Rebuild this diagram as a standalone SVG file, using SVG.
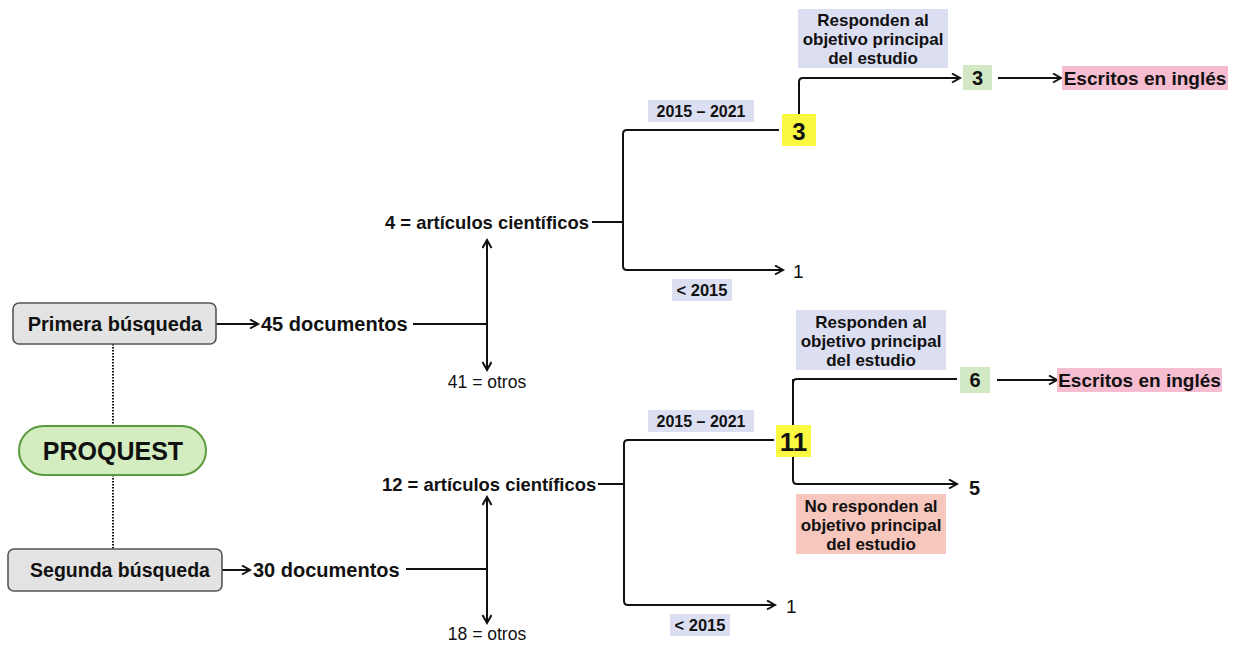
<svg xmlns="http://www.w3.org/2000/svg" width="1234" height="646" viewBox="0 0 1234 646">
<defs>
<marker id="ar" markerUnits="userSpaceOnUse" markerWidth="12" markerHeight="12" refX="9" refY="5" orient="auto-start-reverse">
<path d="M1,0.5 L9,5 L1,9.5" fill="none" stroke="#111" stroke-width="2"/>
</marker>
<style>
text{font-family:"Liberation Sans",Arial,sans-serif;fill:#111;dominant-baseline:central}
.b{font-weight:bold}
.c{text-anchor:middle}
.con path,.con line{fill:none;stroke:#111;stroke-width:2}
.dot{stroke:#333;stroke-width:2;stroke-dasharray:1.5 1.5;fill:none}
.lav{fill:#dcdff2}
.yel{fill:#fbf842}
.grn{fill:#d2e8c4}
.pnk{fill:#f6bcd0}
.sal{fill:#f7c6bd}
.box{fill:#e3e3e3;stroke:#555;stroke-width:1.6}
</style>
</defs>
<rect width="1234" height="646" fill="#fff"/>

<g id="connectors" class="con">
<line class="dot" x1="113" y1="344" x2="113" y2="426"/>
<line class="dot" x1="113" y1="475" x2="113" y2="549"/>
<line x1="216" y1="324" x2="258" y2="324" marker-end="url(#ar)"/>
<line x1="413" y1="324" x2="487" y2="324"/>
<line x1="487" y1="240" x2="487" y2="370" marker-start="url(#ar)" marker-end="url(#ar)"/>
<line x1="592" y1="222" x2="623" y2="222"/>
<path d="M779,130 H627 Q623,130 623,134 V266 Q623,270 627,270 H783" marker-end="url(#ar)"/>
<path d="M799,114 V82 Q799,78 803,78 H960" marker-end="url(#ar)"/>
<line x1="998" y1="78" x2="1061" y2="78" marker-end="url(#ar)"/>

<line x1="222" y1="570" x2="250" y2="570" marker-end="url(#ar)"/>
<line x1="406" y1="569" x2="487" y2="569"/>
<line x1="487" y1="497" x2="487" y2="623" marker-start="url(#ar)" marker-end="url(#ar)"/>
<line x1="598" y1="484" x2="624" y2="484"/>
<path d="M774,440 H628 Q624,440 624,444 V601 Q624,605 628,605 H775" marker-end="url(#ar)"/>
<path d="M957,379 H797 Q793,379 793,383 V480 Q793,484 797,484 H957" marker-end="url(#ar)"/>
<line x1="793" y1="379" x2="793" y2="426"/>
<line x1="997" y1="380" x2="1057" y2="380" marker-end="url(#ar)"/>
</g>

<g id="primera">
<rect class="box" x="13" y="303" width="203" height="41" rx="6"/>
<text class="b c" x="115" y="324" font-size="20">Primera búsqueda</text>
</g>
<g id="proquest">
<rect x="19" y="426" width="187" height="49" rx="24.5" fill="#d3ecc0" stroke="#5c9a3e" stroke-width="2"/>
<text class="b c" x="113" y="451" font-size="25">PROQUEST</text>
</g>
<g id="segunda">
<rect class="box" x="8" y="549" width="214" height="42" rx="6"/>
<text class="b c" x="120" y="570" font-size="19.5">Segunda búsqueda</text>
</g>

<g id="doc45"><text class="b" x="261" y="324" font-size="20">45 documentos</text></g>
<g id="art4"><text class="b" x="385" y="222" font-size="18.4">4 = artículos científicos</text></g>
<g id="otros41"><text class="c" x="487" y="382" font-size="17.5">41 = otros</text></g>

<g id="lbl-2015a"><rect class="lav" x="648" y="100" width="106" height="22"/><text class="b c" x="701" y="111" font-size="16">2015 – 2021</text></g>
<g id="y3"><rect class="yel" x="782" y="114" width="34" height="32"/><text class="b c" x="799" y="131" font-size="24">3</text></g>
<g id="lbl-lt2015a"><rect class="lav" x="672" y="279" width="60" height="22"/><text class="b c" x="702" y="290" font-size="16.5">&lt; 2015</text></g>
<g id="one-a"><text x="793" y="271" font-size="19">1</text></g>
<g id="resp-a"><rect class="lav" x="798" y="9" width="150" height="59"/>
<text class="b c" x="873" y="20" font-size="17">Responden al</text>
<text class="b c" x="873" y="39" font-size="17">objetivo principal</text>
<text class="b c" x="873" y="58" font-size="17">del estudio</text></g>
<g id="g3"><rect class="grn" x="963" y="65" width="29" height="25"/><text class="b c" x="977.5" y="78" font-size="20">3</text></g>
<g id="ing-a"><rect class="pnk" x="1062" y="66" width="166" height="24"/><text class="b c" x="1145" y="78" font-size="19">Escritos en inglés</text></g>

<g id="doc30"><text class="b" x="253" y="570" font-size="20">30 documentos</text></g>
<g id="art12"><text class="b" x="382" y="484" font-size="18.4">12 = artículos científicos</text></g>
<g id="otros18"><text class="c" x="487" y="634" font-size="17.5">18 = otros</text></g>

<g id="lbl-2015b"><rect class="lav" x="648" y="410" width="106" height="22"/><text class="b c" x="701" y="421" font-size="16">2015 – 2021</text></g>
<g id="y11"><rect class="yel" x="776" y="425" width="35" height="32"/><text class="b c" x="793.5" y="442" font-size="26">11</text></g>
<g id="lbl-lt2015b"><rect class="lav" x="670" y="614" width="60" height="22"/><text class="b c" x="700" y="625" font-size="16.5">&lt; 2015</text></g>
<g id="one-b"><text x="786" y="606" font-size="19">1</text></g>
<g id="resp-b"><rect class="lav" x="796" y="310" width="150" height="60"/>
<text class="b c" x="871" y="322" font-size="17">Responden al</text>
<text class="b c" x="871" y="341" font-size="17">objetivo principal</text>
<text class="b c" x="871" y="360" font-size="17">del estudio</text></g>
<g id="g6"><rect class="grn" x="960" y="367" width="30" height="26"/><text class="b c" x="975" y="380" font-size="20">6</text></g>
<g id="ing-b"><rect class="pnk" x="1057" y="368" width="165" height="24"/><text class="b c" x="1139.5" y="380" font-size="19">Escritos en inglés</text></g>
<g id="five"><text class="b" x="969" y="488" font-size="20">5</text></g>
<g id="noresp"><rect class="sal" x="796" y="494" width="150" height="60"/>
<text class="b c" x="871" y="506" font-size="17">No responden al</text>
<text class="b c" x="871" y="525" font-size="17">objetivo principal</text>
<text class="b c" x="871" y="544" font-size="17">del estudio</text></g>
</svg>
